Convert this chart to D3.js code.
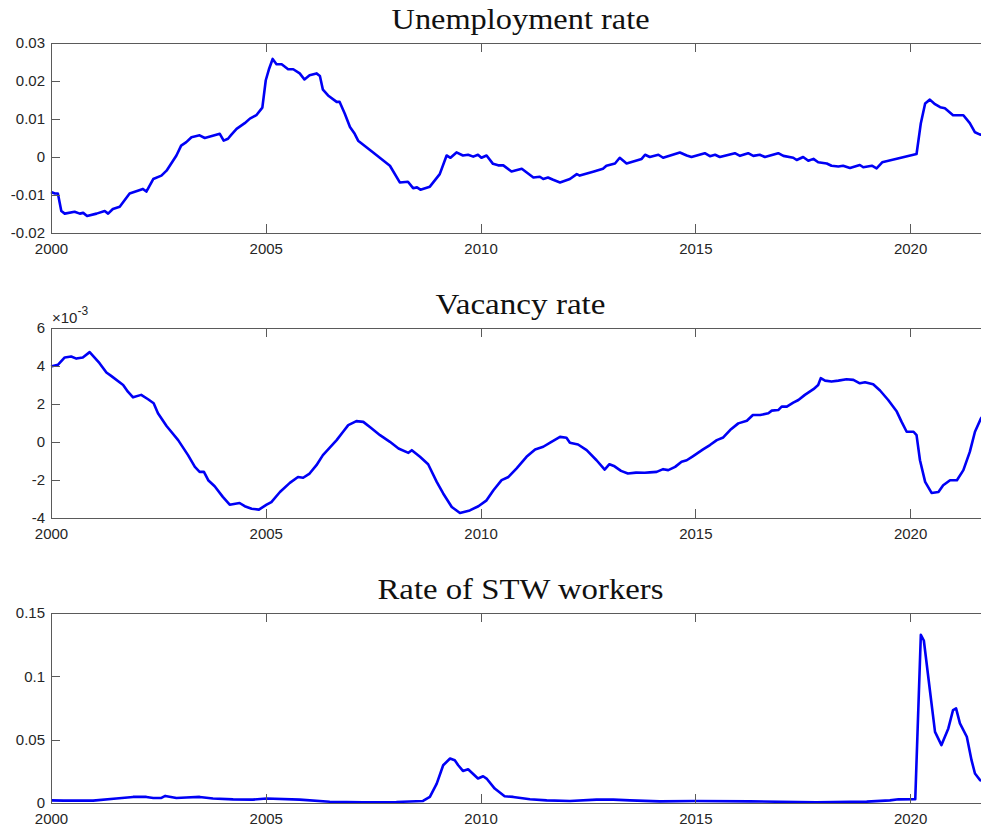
<!DOCTYPE html>
<meta charset="utf-8">
<head>
<style>
  body { margin: 0; background: #fff; }
  svg { display: block; }
  .tick text { font-family: "Liberation Sans", Arial, sans-serif; font-size: 15px; fill: #262626; }
  .tick line { stroke: #5a5a5a; stroke-width: 1px; shape-rendering: crispEdges; }
  .frame { fill: none; stroke: #5a5a5a; stroke-width: 1px; shape-rendering: crispEdges; }
  .title { font-family: "Liberation Serif", "Times New Roman", serif; font-size: 30px; fill: #111; }
  .series { fill: none; stroke: #0000f5; stroke-width: 2.6px; stroke-linejoin: round; }
</style>
</head>
<body>
<div id="chart"></div>
<script src="https://d3js.org/d3.v7.min.js"></script>
<script>

// ---- data (decimal years) ----
var unempDates = [2000.0, 2000.09, 2000.16, 2000.24, 2000.32, 2000.55, 2000.67, 2000.75, 2000.84, 2001.06,
  2001.25, 2001.33, 2001.44, 2001.6, 2001.83, 2002.14, 2002.22, 2002.38, 2002.57, 2002.69,
  2002.92, 2003.03, 2003.15, 2003.27, 2003.46, 2003.58, 2003.93, 2004.02, 2004.12, 2004.2,
  2004.32, 2004.51, 2004.63, 2004.78, 2004.92, 2005.0, 2005.08, 2005.16, 2005.25, 2005.37,
  2005.52, 2005.64, 2005.79, 2005.9, 2006.02, 2006.18, 2006.26, 2006.33, 2006.45, 2006.65,
  2006.72, 2006.84, 2006.96, 2007.07, 2007.15, 2007.5, 2007.89, 2008.12, 2008.31, 2008.43,
  2008.52, 2008.6, 2008.82, 2009.05, 2009.21, 2009.3, 2009.44, 2009.59, 2009.71, 2009.83,
  2009.94, 2010.02, 2010.14, 2010.29, 2010.41, 2010.53, 2010.72, 2010.96, 2011.23, 2011.38,
  2011.46, 2011.57, 2011.69, 2011.85, 2012.08, 2012.24, 2012.31, 2012.62, 2012.85, 2012.93,
  2013.13, 2013.24, 2013.4, 2013.75, 2013.83, 2013.94, 2014.14, 2014.25, 2014.64, 2014.8,
  2014.91, 2015.22, 2015.34, 2015.46, 2015.57, 2015.92, 2016.04, 2016.23, 2016.35, 2016.5,
  2016.62, 2016.93, 2017.05, 2017.28, 2017.36, 2017.51, 2017.63, 2017.75, 2017.86, 2018.06,
  2018.17, 2018.33, 2018.44, 2018.6, 2018.83, 2018.91, 2019.11, 2019.22, 2019.35, 2020.15,
  2020.25, 2020.35, 2020.46, 2020.58, 2020.7, 2020.81, 2021.0, 2021.24, 2021.39, 2021.51,
  2021.63, 2021.83];
var unempValues = [-0.0092, -0.0096, -0.0096, -0.0142, -0.0149, -0.0144, -0.0149, -0.0147, -0.0155, -0.0149,
  -0.0142, -0.0149, -0.0137, -0.0131, -0.0096, -0.0084, -0.0091, -0.0058, -0.0049, -0.0036,
  0.0004, 0.0030, 0.0039, 0.0052, 0.0057, 0.0050, 0.0061, 0.0043, 0.0048, 0.0059,
  0.0074, 0.0089, 0.0101, 0.0110, 0.0130, 0.0202, 0.0233, 0.0258, 0.0244, 0.0244,
  0.0231, 0.0231, 0.0220, 0.0204, 0.0215, 0.0220, 0.0213, 0.0177, 0.0162, 0.0145,
  0.0145, 0.0114, 0.0079, 0.0061, 0.0043, 0.0012, -0.0023, -0.0067, -0.0065, -0.0082,
  -0.0080, -0.0086, -0.0078, -0.0045, 0.0004, -0.0002, 0.0012, 0.0004, 0.0006, 0.0001,
  0.0006, -0.0002, 0.0004, -0.0018, -0.0022, -0.0022, -0.0038, -0.0031, -0.0054, -0.0052,
  -0.0058, -0.0054, -0.0060, -0.0067, -0.0058, -0.0045, -0.0049, -0.0039, -0.0031, -0.0023,
  -0.0017, -0.0002, -0.0017, -0.0005, 0.0006, 0.0000, 0.0006, -0.0002, 0.0012, 0.0004,
  0.0000, 0.0010, 0.0002, 0.0006, 0.0000, 0.0010, 0.0003, 0.0010, 0.0003, 0.0006,
  0.0000, 0.0010, 0.0003, -0.0002, -0.0008, 0.0000, -0.0010, -0.0005, -0.0014, -0.0017,
  -0.0023, -0.0025, -0.0023, -0.0029, -0.0021, -0.0027, -0.0023, -0.0030, -0.0014, 0.0008,
  0.0089, 0.0141, 0.0151, 0.0139, 0.0131, 0.0128, 0.0110, 0.0110, 0.0089, 0.0065,
  0.0059, 0.0058];

// vacancy rate, in units of 1e-3
var vacDates = [2000.0, 2000.16, 2000.32, 2000.47, 2000.59, 2000.74, 2000.9, 2001.13, 2001.29, 2001.4,
  2001.68, 2001.79, 2001.91, 2002.1, 2002.26, 2002.39, 2002.49, 2002.69, 2002.96, 2003.19,
  2003.35, 2003.46, 2003.56, 2003.66, 2003.81, 2004.0, 2004.16, 2004.39, 2004.51, 2004.67,
  2004.84, 2005.02, 2005.13, 2005.33, 2005.56, 2005.75, 2005.87, 2006.02, 2006.18, 2006.33,
  2006.49, 2006.65, 2006.8, 2006.92, 2007.11, 2007.27, 2007.46, 2007.66, 2007.89, 2008.09,
  2008.32, 2008.4, 2008.59, 2008.78, 2008.98, 2009.13, 2009.33, 2009.52, 2009.75, 2009.95,
  2010.14, 2010.3, 2010.49, 2010.65, 2010.84, 2011.07, 2011.27, 2011.46, 2011.65, 2011.85,
  2012.0, 2012.08, 2012.27, 2012.47, 2012.7, 2012.89, 2013.0, 2013.12, 2013.27, 2013.43,
  2013.62, 2013.82, 2013.94, 2014.1, 2014.25, 2014.37, 2014.53, 2014.68, 2014.8, 2014.95,
  2015.18, 2015.34, 2015.5, 2015.65, 2015.81, 2016.0, 2016.2, 2016.34, 2016.51, 2016.7,
  2016.78, 2016.93, 2017.01, 2017.13, 2017.28, 2017.4, 2017.55, 2017.75, 2017.86, 2017.92,
  2018.02, 2018.17, 2018.33, 2018.52, 2018.68, 2018.83, 2018.95, 2019.14, 2019.3, 2019.49,
  2019.69, 2019.8, 2019.92, 2020.08, 2020.15, 2020.23, 2020.35, 2020.5, 2020.66, 2020.77,
  2020.93, 2021.09, 2021.24, 2021.39, 2021.51, 2021.65, 2021.83];
var vacValues = [3.97, 4.06, 4.45, 4.50, 4.39, 4.45, 4.73, 4.15, 3.66, 3.48,
  3.00, 2.65, 2.35, 2.48, 2.25, 2.04, 1.51, 0.84, 0.10, -0.69,
  -1.31, -1.57, -1.57, -2.01, -2.33, -2.89, -3.30, -3.21, -3.38, -3.51,
  -3.56, -3.30, -3.16, -2.63, -2.15, -1.84, -1.88, -1.66, -1.22, -0.69,
  -0.30, 0.10, 0.54, 0.89, 1.10, 1.06, 0.72, 0.36, 0.01, -0.34,
  -0.57, -0.43, -0.78, -1.17, -2.10, -2.71, -3.42, -3.74, -3.60, -3.38,
  -3.07, -2.54, -2.01, -1.84, -1.39, -0.78, -0.39, -0.25, 0.01, 0.27,
  0.22, -0.04, -0.13, -0.43, -0.96, -1.45, -1.17, -1.28, -1.52, -1.66,
  -1.61, -1.62, -1.60, -1.57, -1.43, -1.48, -1.31, -1.04, -0.96, -0.74,
  -0.39, -0.16, 0.10, 0.24, 0.63, 0.98, 1.12, 1.42, 1.42, 1.51,
  1.65, 1.68, 1.86, 1.86, 2.07, 2.21, 2.48, 2.78, 3.00, 3.36,
  3.23, 3.18, 3.23, 3.30, 3.27, 3.09, 3.14, 3.04, 2.71, 2.21,
  1.60, 1.07, 0.54, 0.54, 0.36, -0.96, -2.10, -2.68, -2.63, -2.28,
  -2.01, -2.01, -1.48, -0.52, 0.54, 1.25, 1.70];

var stwDates = [2000.0, 2000.3, 2000.98, 2001.52, 2001.91, 2002.22, 2002.38, 2002.57, 2002.66, 2002.92,
  2003.15, 2003.46, 2003.77, 2004.24, 2004.7, 2005.02, 2005.79, 2006.49, 2007.27, 2008.04,
  2008.66, 2008.82, 2008.98, 2009.13, 2009.29, 2009.4, 2009.48, 2009.59, 2009.71, 2009.94,
  2010.06, 2010.14, 2010.33, 2010.56, 2010.76, 2011.15, 2011.54, 2012.08, 2012.7, 2013.09,
  2013.48, 2014.17, 2014.99, 2016.27, 2017.82, 2018.99, 2019.53, 2019.73, 2020.12, 2020.25,
  2020.32, 2020.46, 2020.58, 2020.73, 2020.89, 2021.0, 2021.07, 2021.16, 2021.32, 2021.43,
  2021.51, 2021.63, 2021.83];
var stwValues = [0.0021, 0.0019, 0.0019, 0.0035, 0.0048, 0.0048, 0.0040, 0.0040, 0.0056, 0.0040,
  0.0043, 0.0048, 0.0035, 0.0029, 0.0027, 0.0035, 0.0027, 0.0010, 0.0006, 0.0008,
  0.0016, 0.0048, 0.0153, 0.0298, 0.0351, 0.0338, 0.0298, 0.0253, 0.0266, 0.0193,
  0.0211, 0.0193, 0.0114, 0.0053, 0.0048, 0.0029, 0.0021, 0.0016, 0.0027, 0.0027,
  0.0021, 0.0013, 0.0016, 0.0013, 0.0005, 0.0011, 0.0021, 0.0029, 0.0030, 0.1328,
  0.1283, 0.0892, 0.0562, 0.0457, 0.0589, 0.0734, 0.0747, 0.0629, 0.0523, 0.0338,
  0.0233, 0.0180, 0.0160];

var xTicks = [2000, 2005, 2010, 2015, 2020];
var unempTicks = [-0.02, -0.01, 0, 0.01, 0.02, 0.03];
var unempTickLabels = ["-0.02", "-0.01", "0", "0.01", "0.02", "0.03"];
var vacTicks = [-4, -2, 0, 2, 4, 6];
var vacTickLabels = ["-4", "-2", "0", "2", "4", "6"];
var stwTicks = [0, 0.05, 0.1, 0.15];
var stwTickLabels = ["0", "0.05", "0.1", "0.15"];
var titles = ["Unemployment rate", "Vacancy rate", "Rate of STW workers"];

// ---- layout ----
var W = 981, H = 827;
var left = 51, right = 990;
var panelTops = [43, 328, 613];
var panelH = 190;
var titleWidths = [258, 170, 286];
var tickLen = 9;

var svg = d3.select("#chart").append("svg")
  .attr("width", W)
  .attr("height", H);

var x = d3.scaleLinear().domain([2000, 2021.86]).range([left, right]);

function panel(i, dates, values, yDomain, yTicks, yLabels) {
  var top = panelTops[i], bottom = top + panelH;
  var y = d3.scaleLinear().domain(yDomain).range([bottom, top]);
  var g = svg.append("g");

  var pts = dates.map(function(d, k){ return [d, values[k]]; });
  g.append("path")
    .datum(pts)
    .attr("class", "series")
    .attr("d", d3.line().x(function(d){ return x(d[0]); }).y(function(d){ return y(d[1]); }));

  // bottom axis with labels
  g.append("g")
    .attr("transform", "translate(0," + bottom + ")")
    .call(d3.axisBottom(x).tickValues(xTicks).tickFormat(d3.format("d")).tickSize(-tickLen).tickPadding(10))
    .call(function(a){ a.select(".domain").remove(); });
  // top axis, ticks only
  g.append("g")
    .attr("transform", "translate(0," + top + ")")
    .call(d3.axisTop(x).tickValues(xTicks).tickFormat("").tickSize(-tickLen))
    .call(function(a){ a.select(".domain").remove(); });
  // left axis with labels
  g.append("g")
    .attr("transform", "translate(" + left + ",0)")
    .call(d3.axisLeft(y).tickValues(yTicks).tickFormat(function(d, k){ return yLabels[k]; }).tickSize(-tickLen).tickPadding(6))
    .call(function(a){ a.select(".domain").remove(); });
  // right axis, ticks only
  g.append("g")
    .attr("transform", "translate(" + right + ",0)")
    .call(d3.axisRight(y).tickValues(yTicks).tickFormat("").tickSize(-tickLen))
    .call(function(a){ a.select(".domain").remove(); });

  g.append("rect")
    .attr("class", "frame")
    .attr("x", left + 0.5)
    .attr("y", top + 0.5)
    .attr("width", right - left)
    .attr("height", panelH);

  g.append("text")
    .attr("class", "title")
    .attr("x", (left + right) / 2)
    .attr("y", top - 14)
    .attr("text-anchor", "middle")
    .attr("textLength", titleWidths[i])
    .attr("lengthAdjust", "spacingAndGlyphs")
    .text(titles[i]);

  return g;
}

panel(0, unempDates, unempValues, [-0.02, 0.03], unempTicks, unempTickLabels);
var vg = panel(1, vacDates, vacValues, [-4, 6], vacTicks, vacTickLabels);
panel(2, stwDates, stwValues, [0, 0.15], stwTicks, stwTickLabels);

// exponent label for the vacancy panel
var expo = vg.append("text")
  .attr("x", left + 1)
  .attr("y", panelTops[1] - 5)
  .attr("font-family", "Liberation Sans, Arial, sans-serif")
  .attr("font-size", 15)
  .attr("fill", "#262626");
expo.append("tspan").text("\u00d710");
expo.append("tspan").attr("dy", -8).attr("font-size", 12).text("-3");

</script>
</body>
